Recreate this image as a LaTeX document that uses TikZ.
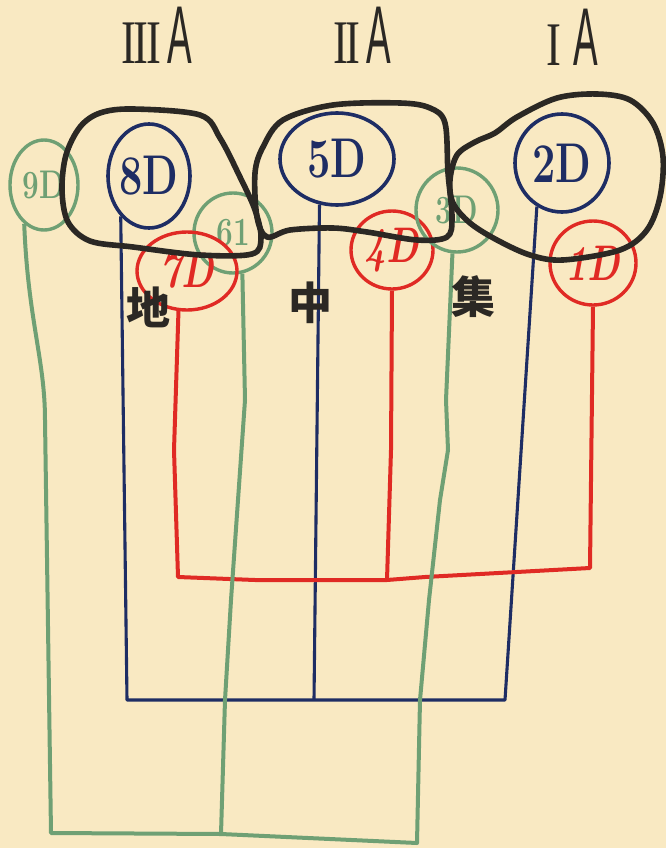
\documentclass[tikz,border=0pt]{standalone}
\usepackage{fontspec}
\newfontfamily\cjk{Noto Sans CJK SC}
\newfontfamily\lsans{Liberation Sans}
\newfontfamily\lserif{Liberation Serif}
\usetikzlibrary{shapes.geometric}
\definecolor{paper}{HTML}{F9E9C2}
\definecolor{ink}{HTML}{1E2D64}
\definecolor{rd}{HTML}{E02A24}
\definecolor{gr}{HTML}{6FA074}
\definecolor{blk}{HTML}{2B2824}
\tikzset{
  oval/.style={ellipse, draw, line width=3.6pt, inner sep=0pt},
  bluec/.style={oval, draw=ink, text=ink, font=\fontsize{56}{56}\selectfont\bfseries},
  redc/.style={oval, draw=rd, text=rd, line width=3.4pt, font=\fontsize{50}{50}\selectfont\bfseries\itshape},
  greenc/.style={oval, draw=gr, text=gr, line width=3.4pt, font=\fontsize{40}{40}\selectfont\bfseries},
  bline/.style={ink, line width=3.1pt, line join=round},
  rline/.style={rd, line width=4pt, line join=round},
  gline/.style={gr, line width=4pt, line join=round},
  group/.style={blk, line width=5.6pt, line join=round},
  head/.style={text=blk, inner sep=0pt, anchor=base west},
  hanzi/.style={text=blk, font=\cjk\bfseries\fontsize{44}{44}\selectfont, inner sep=0pt},
}
\newcommand{\ot}[1]{\makebox[0pt]{\scalebox{0.74}[1]{#1}}}
\newcommand{\romnum}[1]{{\lserif\fontsize{62}{62}\selectfont\scalebox{0.72}[1]{#1}}}
\newcommand{\tallA}{{\lsans\fontsize{82}{82}\selectfont\scalebox{0.45}[1]{A}}}
\begin{document}
\begin{tikzpicture}[x=1pt,y=-1pt]
\fill[paper] (0,0) rectangle (666,848);
\useasboundingbox (0,0) rectangle (666,848);

% column headings
\node[head] (h3) at (121,64) {\romnum{I\kern-3ptI\kern-3ptI}\hspace{6pt}\tallA};
\node[head] (h2) at (333,64) {\romnum{I\kern-3ptI}\hspace{6pt}\tallA};
\node[head] (h1) at (546,66) {\romnum{I}\hspace{12pt}\tallA};

% ovals
\node[greenc, minimum width=68pt, minimum height=90pt] (n9) at (44,185) {\ot{9D}};
\node[bluec, minimum width=82pt, minimum height=104pt] (n8) at (149,176) {\ot{8D}};
\node[greenc, minimum width=78pt, minimum height=80pt] (n6) at (233,233) {\ot{61}};
\node[redc, minimum width=100pt, minimum height=78pt] (n7) at (187,271) {\ot{7D}};
\node[bluec, minimum width=114pt, minimum height=92pt] (n5) at (337,159) {\ot{5D}};
\node[redc, minimum width=82pt, minimum height=78pt] (n4) at (392,250) {\ot{4D}};
\node[greenc, minimum width=82pt, minimum height=84pt] (n3) at (457,210) {\ot{3D}};
\node[bluec, minimum width=94pt, minimum height=98pt] (n2) at (562,163) {\ot{2D}};
\node[redc, minimum width=86pt, minimum height=84pt] (n1) at (593,263) {\ot{1D}};

% junction points
\coordinate (bL) at (127,700);
\coordinate (bM) at (314,700);
\coordinate (bR) at (505,700);
\coordinate (rL) at (178,577);
\coordinate (rM) at (387,580);
\coordinate (rR) at (590,568);
\coordinate (gL) at (51,833);
\coordinate (gM) at (221,834);
\coordinate (gR) at (417,843);

% blue tree
\draw[bline] (n8.235) -- (bL) -- (bM) -- (bR) -- (n2.240);
\draw[bline] (n5.249) -- (bM);

% red tree
\draw[rline] (n7.258) -- (174,450) -- (rL) -- (255,580) -- (rM) -- (425,577) -- (rR) -- (n1.south);
\draw[rline] (n4.south) -- (391,450) -- (rM);

% green tree
\draw[gline] (n9.243) .. controls (28,320) and (45,360) .. (45,420) -- (gL) -- (gM) -- (gR)
  -- (420,700) -- (429,600) -- (440,500) -- (448,450) -- (446,400) -- (n3.264);
\draw[gline] (n6.283) -- (245,400) -- (238,500) -- (231,600) -- (225,700) -- (gM);

% groupings
\draw[group] plot[smooth cycle, tension=0.55] coordinates {
  (100,113) (133,109) (200,115) (220,138) (240,177) (255,210) (261,238) (252,254)
  (200,255) (133,247) (90,241) (68,222) (62,190) (66,155) (80,127)};
\draw[group] plot[smooth cycle, tension=0.55] coordinates {
  (283,120) (333,105) (400,103) (430,108) (445,123) (448,173) (452,217) (447,237)
  (417,240) (367,232) (333,228) (290,230) (267,237) (257,217) (255,173) (263,147)};
\draw[group] plot[smooth cycle, tension=0.55] coordinates {
  (450,180) (457,155) (475,142) (495,133) (517,117) (557,98) (597,94) (630,100)
  (653,123) (663,157) (660,197) (647,230) (620,250) (563,260) (530,255) (497,240)
  (470,223) (453,203)};

% characters
\node[hanzi] (c1) at (148,307) {地};
\node[hanzi] (c2) at (310,303) {中};
\node[hanzi] (c3) at (473,297) {集};
\end{tikzpicture}
\end{document}
